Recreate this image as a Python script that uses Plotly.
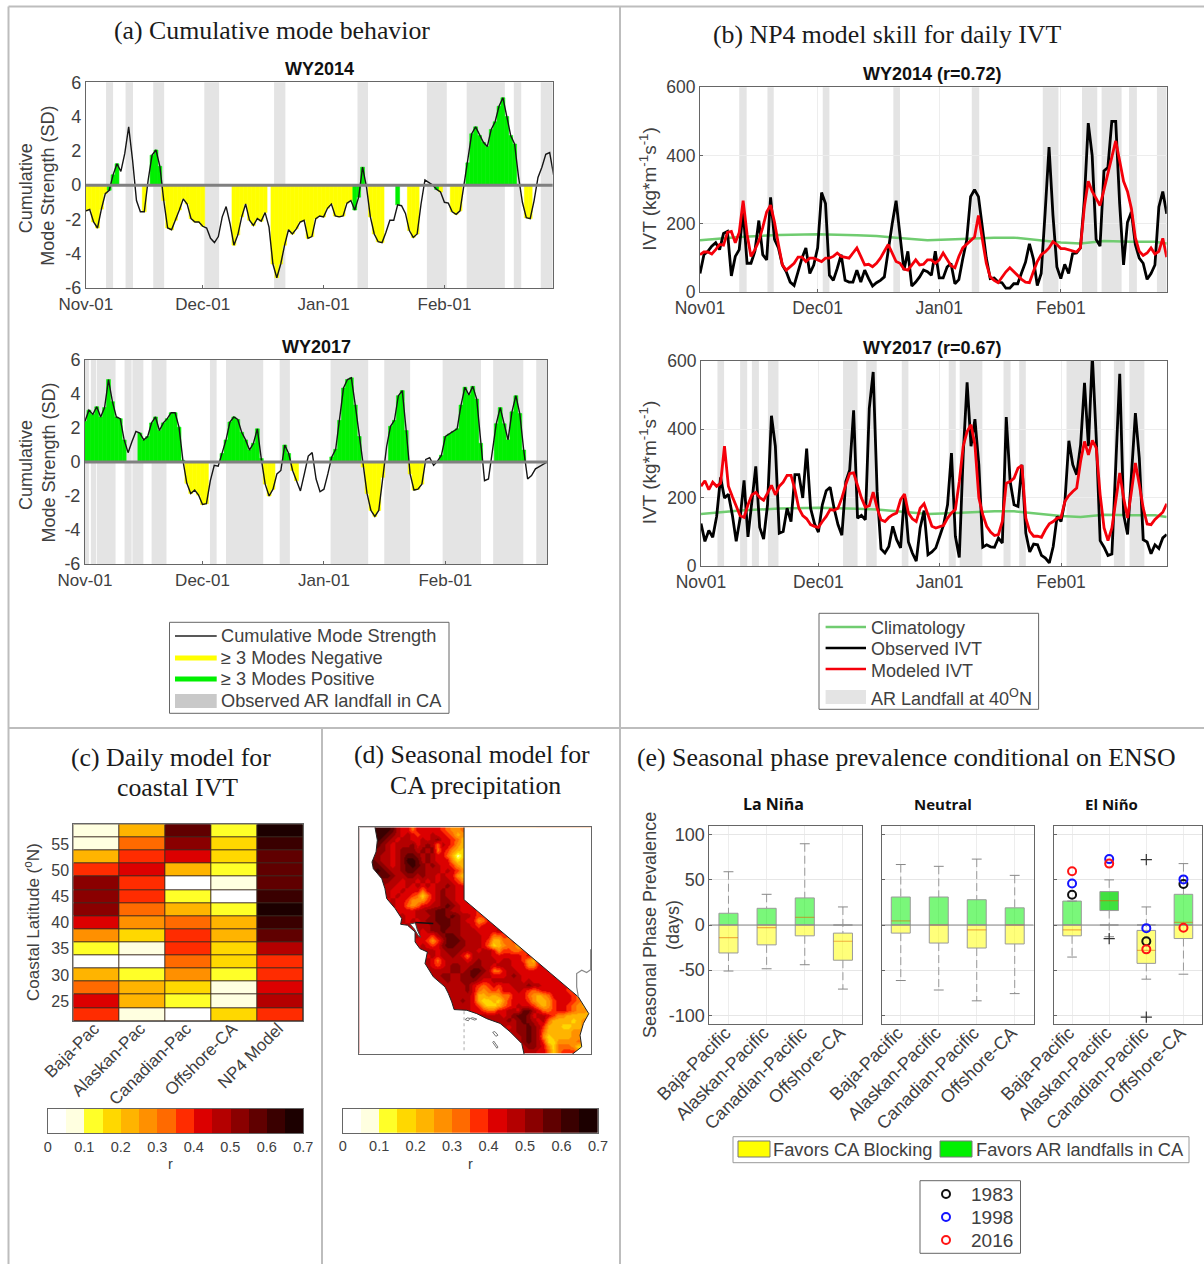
import plotly.graph_objects as go

W, H = 1204, 1264
SANS = "Liberation Sans"
SERIF = "Liberation Serif"
INK = "#404040"
FRAME = "#666666"
BAND = "#E4E4E4"

month_ticks = [0, 30, 61, 92]
month_dash = ["Nov-01", "Dec-01", "Jan-01", "Feb-01"]
month_plain = ["Nov01", "Dec01", "Jan01", "Feb01"]

# Panel a: cumulative mode strength
a14 = [-1.5,-1.42,-2.15,-2.5,-1.4,-0.5,-0.3,0.6,1.25,0.8,
       1.85,3.4,1.45,-0.9,-1.55,-1.55,0.3,1.75,2.05,1.1,
       -0.9,-2.5,-2.6,-2.05,-1.45,-0.8,-1.1,-1.95,-2.15,-2.15,
       -2.4,-2.5,-3.1,-3.35,-3.0,-1.85,-1.25,-2.25,-3.5,-2.9,
       -1.85,-1.1,-2.05,-2.35,-1.95,-2.1,-1.6,-2.45,-4.6,-5.4,
       -4.6,-3.5,-2.6,-2.85,-2.55,-2.15,-2.05,-3.1,-3.0,-1.95,
       -1.8,-1.85,-1.35,-1.1,-1.8,-1.85,-1.8,-1.05,-0.9,-1.45,
       -0.7,1.05,-0.1,-1.85,-2.85,-3.3,-3.35,-2.75,-2.05,-2.05,
       -1.15,-1.2,-1.65,-2.65,-3.05,-2.85,-1.1,0.3,0.15,0.0,
       -0.25,-0.4,-1.0,-1.05,-1.55,-1.7,-1.5,0.0,1.3,3.0,
       3.4,2.9,2.5,2.25,3.25,3.7,4.6,5.1,4.0,2.9,
       2.4,0.5,-1.0,-1.9,-1.95,-0.9,0.45,1.05,1.8,1.9,0.6]
a17 = [2.4,3.05,2.8,3.25,2.65,3.2,4.85,3.55,2.65,2.55,
       1.3,0.55,1.2,1.8,1.7,1.3,1.5,2.3,2.65,1.85,
       2.3,2.55,2.9,2.9,2.05,0.1,-1.25,-1.85,-1.65,-1.95,
       -2.5,-2.45,-1.1,-0.2,-0.25,0.5,1.3,2.35,2.65,2.5,
       1.75,1.3,0.7,1.1,1.95,0.2,-1.3,-2.0,-1.6,-0.7,
       -0.5,1.0,0.5,-0.5,-1.1,-1.7,-0.7,0.35,0.55,-1.0,
       -1.75,-1.6,-0.7,0.3,0.75,2.45,4.35,4.85,4.95,3.35,
       1.5,-0.3,-1.85,-2.85,-3.2,-2.85,-0.9,0.9,2.1,2.45,
       3.9,4.2,1.85,-0.7,-1.65,-1.6,-1.3,0.15,0.25,-0.2,
       0.05,0.4,1.5,1.65,1.8,1.95,3.35,4.4,3.95,4.45,
       3.7,1.1,-1.1,-1.0,0.5,2.25,3.2,2.25,1.3,2.95,
       3.9,2.85,0.7,-1.0,-0.8,-0.4,-0.25,-0.15,0.0]
a14_yellow = [(0,5),(15,15),(20,30),(38,46),(48,66),(67,68),(73,76),(83,85),(91,91),(94,96),(113,114)]
a14_green = [(6,8),(17,19),(69,71),(80,80),(90,90),(98,110)]
a17_yellow = [(26,31),(46,48),(53,54),(71,76),(83,86)]
a17_green = [(0,10),(14,25),(35,45),(51,52),(63,70),(78,82),(91,101),(105,112)]
a14_ar = [(5.2,7),(10.2,12.1),(17.3,20.1),(30.4,34.2),(48.3,51.2),(69.7,72.4),(87.5,92.6),(97.7,107.5),(109.8,111.7),(116.7,119.8)]
a17_ar = [(0,1),(1.5,2.8),(3,7.8),(10.1,11.9),(12.1,14.9),(17,20.8),(31.9,33.6),(36,45.5),(49.7,52.3),(62.7,72.3),(76.4,83),(91.3,101.1),(104.2,111.9),(115.2,118)]

# Panel b: IVT
b14_obs = [55,110,120,135,145,125,172,178,48,105,
           125,240,85,85,120,210,110,95,278,155,
           130,80,60,30,20,60,100,130,55,80,
           130,292,260,50,35,70,110,35,30,30,
           65,30,65,40,18,28,35,45,130,200,
           268,160,65,120,18,30,45,65,60,50,
           120,42,42,74,84,25,37,98,152,280,
           300,280,185,100,40,42,30,28,12,12,
           25,25,57,88,142,98,20,55,233,425,
           225,74,40,82,55,113,115,130,270,495,
           400,155,135,355,365,500,500,260,80,205,
           235,140,100,85,38,55,80,250,295,230]
b14_mod = [110,118,118,112,125,140,138,175,178,145,
           175,268,170,105,125,150,190,235,255,205,
           140,80,65,75,85,103,103,90,100,100,
           95,90,100,100,105,115,105,102,100,115,
           130,105,80,82,75,85,100,120,140,115,
           90,85,68,65,80,95,80,82,95,95,
           85,95,115,95,78,72,105,130,140,150,
           162,225,150,85,45,35,28,45,60,72,
           60,50,38,30,28,60,90,110,118,130,
           148,140,128,128,125,120,118,130,250,325,
           295,275,254,300,345,395,443,385,325,295,
           245,160,120,108,115,130,112,120,158,103]
b17_obs = [124,72,104,84,145,259,199,210,150,72,
           140,250,85,189,291,113,79,179,439,350,
           96,101,169,130,267,267,199,343,169,124,
           99,179,220,230,169,121,90,247,281,455,
           140,148,135,461,567,218,50,38,57,116,
           77,53,208,70,38,14,111,162,33,41,
           53,87,121,179,330,87,25,325,537,350,
           429,296,55,62,56,55,82,67,435,247,
           179,174,296,96,41,64,62,31,23,9,
           57,145,130,190,366,296,267,354,535,350,
           615,374,74,55,31,35,315,562,150,92,
           267,447,315,77,70,36,62,51,82,92]
b17_mod = [233,249,223,245,233,242,350,233,203,174,
           147,142,179,208,215,200,192,213,236,208,
           233,245,265,265,223,169,147,138,121,116,
           113,130,145,165,163,169,199,238,270,272,
           233,199,172,176,216,169,135,130,142,150,
           155,194,210,155,138,130,169,182,150,116,
           111,116,119,140,155,165,247,350,393,413,
           354,199,150,116,99,89,92,130,242,247,
           257,286,294,140,101,87,87,84,106,123,
           130,140,142,189,206,218,228,306,364,325,
           367,345,208,111,74,111,199,272,199,140,
           218,301,238,169,123,121,136,148,157,182]
clim_days = [0,5,10,20,30,40,45,50,58,65,70,75,80,86,92,97,103,110,116,119]
clim_vals = [152,158,162,168,170,167,165,160,152,155,158,160,160,152,146,143,150,148,148,143]
b14_ar = [(10,11.9),(17.2,18.8),(31.3,33),(49.3,51),(69.3,71.2),(87.4,91.4),(97.4,101.3),(102.4,107.5),(109.4,111.4),(116.5,119)]
b17_ar = [(4.2,5.9),(10,11.8),(13,14.8),(17.1,19.8),(36.3,40),(42.2,44.9),(51.3,53),(63.3,65.1),(66.1,71.9),(77.3,79.1),(81.3,83),(93.4,102.2),(105.5,108.3),(109.5,113.3)]

# Panel c: correlation table, bottom row first
lat_centers = [22.5,25,27.5,30,32.5,35,37.5,40,42.5,45,47.5,50,52.5,55,57.5]
c_modes = ["Baja-Pac","Alaskan-Pac","Canadian-Pac","Offshore-CA","NP4 Model"]
c_baja = [.375,.425,.325,.225,.025,.125,.275,.425,.525,.525,.525,.375,.225,.075,.075]
c_alas = [.075,.225,.225,.125,.025,.075,.175,.275,.325,.375,.375,.425,.375,.325,.225]
c_cana = [.025,.125,.175,.275,.325,.375,.375,.325,.225,.125,.025,.225,.425,.525,.575]
c_offs = [.175,.075,.075,.125,.175,.175,.225,.225,.125,.025,.075,.125,.175,.175,.125]
c_np4m = [.375,.475,.425,.375,.375,.475,.575,.625,.675,.625,.575,.575,.575,.625,.675]
r_bins = [.025,.075,.125,.175,.225,.275,.325,.375,.425,.475,.525,.575,.625,.675]
r_ticks = [0,.1,.2,.3,.4,.5,.6,.7]
r_labels = ["0","0.1","0.2","0.3","0.4","0.5","0.6","0.7"]
r_colors = ["#FFFFFF","#FFFFE0","#FFFF28","#FFD800","#FFB400","#FF9000","#FF6A00",
            "#FF2C00","#DC0000","#B40000","#8A0000","#600000","#3A0000","#1C0000"]

# (first column, level string); levels 0-9,a-d index r_colors
map_rows = [
 (3,"dddca9968988876556"),(3,"ddcba9a8798a987645"),(3,"dcba9aa98a9ab98764"),(3,"cba9aaab9aba6a8754"),
 (3,"bba9abbbabab687543"),(2,"bbaa9abccbaba986413"),(2,"cbaa9abddcaba998534"),(2,"ccba9abcdcbaba99754"),
 (3,"dcbaabccbbaaa9a9754"),(4,"ccbaabbabaa9a9854"),(4,"bbaa9aa9a9a9aa975"),(5,"aa99a9a8a9aaba986"),
 (5,"a99a988689abaa98"),(5,"a9a9876368abaa98"),(5,"9a98755579abba98"),(6,"a9865689aabcba98"),
 (7,"9989aabbccbaa98"),(8,"a99aaabccbcbaa977"),(8,"a9a9abbcccbba98568"),(8,"9a9aaabbccbbaa97889"),
 (10,"8a9abbcbbbaaa9998a8"),(11,"a987abccbaaaa98667"),(11,"98757acccbaaa97446675"),(11,"9a879bccbbaaa863456645"),
 (13,"aa9abbbaaa9aa8577667"),(13,"9a9aaba96aaaa98899878"),(13,"a869aaaa9abaaa9aa987548"),(13,"a979abbaabbaa9aaa9985589"),
 (14,"aaaabbabccba668aa9998989"),(14,"aabbaabbcbaa889aba9998888"),(15,"aabaabbba99aaaaaa9a988888"),(17,"aaaab97678789aaabaa99888"),
 (17,"aaaab865676889a8767899887"),(18,"aaaa8445456689865456899876"),(18,"aaba94334357899754457898765"),(19,"aaa974334679a9875457987654"),
 (21,"a9876689aa9cca86679876554"),(24,"aaaa9abccb9aa975544444"),(26,"aaababcba9a64444345"),(28,"a9abbcba744433445"),
 (30,"abbcba64444455"),(30,"aabcba53444455"),(31,"abcba73355556"),(32,"abba853666533"),(32,"aaa98636777"),
]
map_level_fix = str.maketrans("9abcd", "89abc")
map_lon0, map_dlon, map_lat0, map_dlat, map_cols = -124.82, 0.2379, 41.9, -0.2105, 46
coast_lon = [-124.2,-124.09,-124.15,-124.34,-124.28,-123.88,-123.73,-123.65,-123.25,-122.94,-122.99,-122.67,-122.31,-122.31,-122.08,-121.73,-121.84,-121.45,-120.9,-120.74,-120.58,-120.47,-119.87,-119.4,-118.93,-118.3,-117.83,-117.28,-117.17]
coast_lat = [42,41.46,40.97,40.55,40.27,39.85,39.43,39.02,38.6,38.18,37.94,37.9,37.62,37.2,36.92,36.78,36.3,35.74,35.32,35.04,34.69,34.37,34.34,34.2,33.99,33.79,33.44,32.95,32.5]
east_lon = [-120,-120,-114.61,-114.12,-114.37,-114.53,-114.45,-114.69,-114.9]
east_lat = [42,38.97,34.9,34.2,33.79,33.3,32.81,32.64,32.5]
bay_lon = [-122.55,-122.3,-122.2,-122.05,-122.15,-122.35]
bay_lat = [37.95,38.0,37.7,37.4,37.45,37.75]
delta_lon = [-122.3,-121.9,-121.45]
delta_lat = [38.02,38.0,37.97]
river_lon = [-114.61,-114.69,-114.69,-114.45,-114.22,-114.03,-114.03]
river_lat = [34.9,35.32,35.88,36.02,35.92,36.04,36.9]
state_lon = [-120,-120]
state_lat = [34.3,32.6]
island1_lon = [-119.95,-119.8,-119.72,-119.85,-119.95,None,-119.7,-119.5,-119.4,-119.6,-119.7]
island1_lat = [33.95,33.9,34.0,34.02,33.95,None,34.0,33.93,33.97,34.03,34.0]
island2_lon = [-118.65,-118.5,-118.4,-118.55,-118.65,None,-118.65,-118.45,-118.4,-118.6,-118.65]
island2_lat = [33.42,33.25,33.3,33.45,33.42,None,33.0,32.75,32.8,33.05,33.0]

# Panel e: box statistics, order Baja, Alaskan, Canadian, Offshore
e_cats = ["Baja-Pacific","Alaskan-Pacific","Canadian-Pacific","Offshore-CA"]
nina_hi = [59,34,90,20];      nina_q3 = [13,18.5,30,-9];    nina_med = [-14,-3,8.5,-18]
nina_q1 = [-31,-22,-12,-39];  nina_lo = [-51,-48.5,-44,-71]
neut_hi = [67,65,73,55];      neut_q3 = [31,31,28,19];      neut_med = [4.5,0,-5.5,0]
neut_q1 = [-9,-20,-25.5,-21]; neut_lo = [-61.5,-72,-84,-76]
nino_hi = [26.5,50,20,68];    nino_q3 = [26.5,37,-6,34];    nino_med = [-5.5,27,-28,3]
nino_q1 = [-12,16,-42.5,-15]; nino_lo = [-35.5,-13,-60,-54.5]
nino_plus_x = [2,3,3];        nino_plus_y = [-15,72.5,-102]
y1983 = [33.5,None,-18,45.5]
y1998 = [46,73,-3.5,50.5]
y2016 = [59.5,68,-27,-3]


def px(x):
    return x / W


def py(y):
    return 1 - y / H


fig = go.Figure()
layout = dict(
    width=W, height=H, margin=dict(l=0, r=0, t=0, b=0, autoexpand=False), showlegend=False,
    paper_bgcolor="white", plot_bgcolor="white", barmode="overlay",
    font=dict(family=SANS, color=INK, size=17),
)
shapes, notes = [], []


def make_axes(n, box, xopt, yopt):
    l, t, r, b = box
    base = dict(showline=True, mirror=True, linecolor=FRAME, linewidth=1, zeroline=False, showgrid=False, ticks="")
    layout[f"xaxis{n}"] = {**base, "domain": [px(l), px(r)], "anchor": f"y{n}", **xopt}
    layout[f"yaxis{n}"] = {**base, "domain": [py(b), py(t)], "anchor": f"x{n}", **yopt}


def on(n):
    return dict(xaxis=f"x{n}", yaxis=f"y{n}")


def text(x, y, s, size=17, family=SANS, color=INK, xanchor="center", angle=0, bold=False):
    if bold:
        s = f"<b>{s}</b>"
    notes.append(dict(x=px(x), y=py(y), xref="paper", yref="paper", text=s, showarrow=False,
                      xanchor=xanchor, yanchor="middle", textangle=angle,
                      font=dict(size=size, family=family, color=color)))


def line_px(x0, y0, x1, y1, color, width=1):
    shapes.append(dict(type="line", xref="paper", yref="paper", x0=px(x0), y0=py(y0), x1=px(x1), y1=py(y1),
                       line=dict(color=color, width=width)))


def rect_px(x0, y0, x1, y1, fill, outline=None, width=1):
    shapes.append(dict(type="rect", xref="paper", yref="paper", x0=px(x0), y0=py(y0), x1=px(x1), y1=py(y1),
                       fillcolor=fill, line=dict(color=outline or fill, width=width if outline else 0)))


def bands(n, spans):
    for s, e in spans:
        shapes.append(dict(type="rect", xref=f"x{n}", yref=f"y{n} domain", x0=s, x1=e, y0=0, y1=1,
                           fillcolor=BAND, line_width=0, layer="below"))


def days_of(runs):
    return [d for s, e in runs for d in range(s, e + 1)]


def mode_panel(n, box, series, yellow, green, ar, xmax, title):
    make_axes(n, box,
              dict(range=[0, xmax], tickvals=month_ticks, ticktext=month_dash, ticks="inside", ticklen=3,
                   tickcolor=FRAME, tickfont=dict(size=17), ticklabelstandoff=1),
              dict(range=[-6, 6], tickvals=list(range(-6, 7, 2)), ticktext=[str(v) for v in range(-6, 7, 2)],
                   tickfont=dict(size=18)))
    bands(n, ar)
    for runs, col in ((yellow, "#FFFF00"), (green, "#00F000")):
        ds = days_of(runs)
        fig.add_bar(x=ds, y=[series[d] for d in ds], width=1.0,
                    marker=dict(color=col, line=dict(color=col, width=0.6)), **on(n))
    fig.add_scatter(x=list(range(len(series))), y=series, mode="lines", line=dict(color="#151515", width=1.4), **on(n))
    fig.add_scatter(x=[0, xmax], y=[0, 0], mode="lines", line=dict(color="#808080", width=3), **on(n))
    l, t, r, b = box
    text((l + r) / 2, t - 13, title, size=18, color="#111111", bold=True)
    text(26, (t + b) / 2 + 3, "Cumulative", size=18, angle=-90)
    text(48.5, (t + b) / 2 + 1, "Mode Strength (SD)", size=18, angle=-90)


def ivt_panel(n, box, obs, mod, ar, title):
    make_axes(n, box,
              dict(range=[0, 119], tickvals=month_ticks, ticktext=month_plain, ticks="inside", ticklen=3, tickcolor=FRAME,
                   showgrid=True, gridcolor="#EDEDED", tickfont=dict(size=17.5)),
              dict(range=[0, 600], tickvals=[0, 200, 400, 600], ticklen=3, ticks="inside", tickcolor=FRAME,
                   showgrid=True, gridcolor="#EDEDED", tickfont=dict(size=17.5)))
    bands(n, ar)
    fig.add_scatter(x=clim_days, y=clim_vals, mode="lines", line=dict(color="#70CC70", width=2.5), **on(n))
    fig.add_scatter(x=list(range(len(obs))), y=obs, mode="lines", line=dict(color="#000000", width=2.8), **on(n))
    fig.add_scatter(x=list(range(len(mod))), y=mod, mode="lines", line=dict(color="#F5000A", width=2.8), **on(n))
    l, t, r, b = box
    text((l + r) / 2 - 1, t - 13, title, size=18, color="#111111", bold=True)
    text(648, (t + b) / 2 - 1, "IVT (kg*m<sup>-1</sup>s<sup>-1</sup>)", size=19, angle=-90)


mode_panel(12, (85.8, 82.3, 552.8, 288), a14, a14_yellow, a14_green, a14_ar, 119.8, "WY2014")
mode_panel(2, (85, 360, 547.2, 564), a17, a17_yellow, a17_green, a17_ar, 118, "WY2017")
ivt_panel(3, (700, 87.3, 1166.7, 292.3), b14_obs, b14_mod, b14_ar, "WY2014 (r=0.72)")
ivt_panel(4, (701, 360.7, 1166.7, 566), b17_obs, b17_mod, b17_ar, "WY2017 (r=0.67)")

# discrete colour scale shared by panels c and d
stops = []
for i, c in enumerate(r_colors):
    stops += [[i / 14, c], [(i + 1) / 14, c]]

# Panel c
make_axes(5, (73.3, 824.3, 303.3, 1021),
          dict(range=[-0.5, 4.5], tickvals=list(range(5)), ticktext=c_modes, tickangle=-45,
               tickfont=dict(size=17), showline=True, ticklabelstandoff=-10, ticklabelshift=-2),
          dict(range=[21.25, 58.75], tickvals=[25, 30, 35, 40, 45, 50, 55], tickfont=dict(size=16)))
shapes.append(dict(type="rect", xref="x5 domain", yref="y5 domain", x0=0, x1=1, y0=0, y1=1,
                   fillcolor="#3C2A20", line_width=0, layer="below"))
fig.add_heatmap(x=list(range(5)), y=lat_centers, z=[list(row) for row in zip(c_baja, c_alas, c_cana, c_offs, c_np4m)],
                zmin=0, zmax=0.7, colorscale=stops, showscale=False, xgap=1, ygap=1, **on(5))
text(32, 922, "Coastal Latitude (<sup>o</sup>N)", size=17, angle=-90)


def r_bar(n, box, r_x):
    make_axes(n, box,
              dict(range=[0, 0.7], tickvals=r_ticks, ticktext=r_labels, tickfont=dict(size=14.5)),
              dict(range=[0, 1], showticklabels=False))
    fig.add_heatmap(x=r_bins, y=[0.5], z=[r_bins], zmin=0, zmax=0.7, colorscale=stops, showscale=False, **on(n))
    text(r_x, box[3] + 31, "r", size=14.5)


r_bar(6, (47.7, 1109, 303.3, 1133.3), 170)
r_bar(8, (342.7, 1109, 598, 1132.7), 470)

# Panel d
make_axes(7, (359.3, 827.3, 591.3, 1054),
          dict(range=[-124.94, -114], showticklabels=False),
          dict(range=[32.51, 42], showticklabels=False))
map_z = []
for start, levels in map_rows:
    row = [None] * map_cols
    for i, ch in enumerate(levels.translate(map_level_fix)):
        if start + i < map_cols:
            row[start + i] = r_bins[int(ch, 16)]
    map_z.append(row)
fig.add_heatmap(x=[map_lon0 + map_dlon * i for i in range(map_cols)],
                y=[map_lat0 + map_dlat * j for j in range(len(map_rows))],
                z=map_z, zmin=0, zmax=0.7, colorscale=stops, showscale=False,
                zsmooth="best", connectgaps=True, **on(7))
west_x = coast_lon + [-124.94, -124.94]
west_y = coast_lat + [32.51, 42]
fig.add_scatter(x=west_x, y=west_y, mode="none", fill="toself", fillcolor="white", **on(7))
east_x = east_lon + [-114, -114]
east_y = east_lat + [32.51, 42]
fig.add_scatter(x=east_x, y=east_y, mode="none", fill="toself", fillcolor="white", **on(7))
fig.add_scatter(x=bay_lon + bay_lon[:1], y=bay_lat + bay_lat[:1], mode="lines", fill="toself", fillcolor="white",
                line=dict(color="#444444", width=1), **on(7))
fig.add_scatter(x=delta_lon, y=delta_lat, mode="lines", line=dict(color="#111111", width=1.5), **on(7))
fig.add_scatter(x=coast_lon, y=coast_lat, mode="lines", line=dict(color="#222222", width=1), **on(7))
fig.add_scatter(x=east_lon, y=east_lat, mode="lines", line=dict(color="#222222", width=1), **on(7))
fig.add_scatter(x=river_lon, y=river_lat, mode="lines", line=dict(color="#888888", width=1.2), **on(7))
fig.add_scatter(x=state_lon, y=state_lat, mode="lines", line=dict(color="#AAAAAA", width=1, dash="dot"), **on(7))
for ix, iy in ((island1_lon, island1_lat), (island2_lon, island2_lat)):
    fig.add_scatter(x=ix, y=iy, mode="lines", line=dict(color="#777777", width=1), **on(7))


# Panel e
def box_panel(n, box, hi, q3, med, q1, lo, labels):
    make_axes(n, box,
              dict(range=[0.5, 4.5], tickvals=[1, 2, 3, 4], ticktext=e_cats, tickangle=-45, showgrid=True,
                   gridcolor="#EDEDED", tickfont=dict(size=18), ticklabelstandoff=-10, ticklabelshift=-3),
              dict(range=[-110, 110], tickvals=[-100, -50, 0, 50, 100],
                   ticktext=["-100", "-50", "0", "50", "100"] if labels else None,
                   showticklabels=labels, showgrid=True, gridcolor="#E6E6E6", ticks="inside", ticklen=3,
                   tickcolor=FRAME, tickfont=dict(size=18)))
    cats = [1, 2, 3, 4]
    wx, wy, cx, cy = [], [], [], []
    for c, h, u, d, l in zip(cats, hi, q3, q1, lo):
        wx += [c, c, None, c, c, None]
        wy += [h, u, None, d, l, None]
        cx += [c - 0.13, c + 0.13, None, c - 0.13, c + 0.13, None]
        cy += [h, h, None, l, l, None]
    fig.add_scatter(x=wx, y=wy, mode="lines", line=dict(color="#999999", width=1, dash="8px,4px"), **on(n))
    fig.add_scatter(x=cx, y=cy, mode="lines", line=dict(color="#888888", width=1), **on(n))
    up_base = [max(v, 0) for v in q1]
    up_h = [max(u, 0) - b for u, b in zip(q3, up_base)]
    dn_top = [min(v, 0) for v in q3]
    dn_h = [t - min(d, 0) for t, d in zip(dn_top, q1)]
    up_col = ["rgba(0,215,0,0.75)" if d >= 0 else "rgba(0,240,0,0.52)" for d in q1]
    fig.add_bar(x=cats, y=up_h, base=up_base, width=0.5, marker=dict(color=up_col, line=dict(color="#9A9A9A", width=1)), **on(n))
    fig.add_bar(x=cats, y=dn_h, base=[t - h for t, h in zip(dn_top, dn_h)], width=0.5,
                marker=dict(color="rgba(255,255,0,0.52)", line=dict(color="#9A9A9A", width=1)), **on(n))
    mx, my = [], []
    for c, m in zip(cats, med):
        mx += [c - 0.25, c + 0.25, None]
        my += [m, m, None]
    fig.add_scatter(x=mx, y=my, mode="lines", line=dict(color="rgba(225,100,0,0.5)", width=1.2), **on(n))
    fig.add_scatter(x=[0.5, 4.5], y=[0, 0], mode="lines", line=dict(color="#8A8A8A", width=1.2), **on(n))


E_T, E_B = 825.7, 1024.3
box_panel(9, (709.4, E_T, 862, E_B), nina_hi, nina_q3, nina_med, nina_q1, nina_lo, True)
box_panel(10, (881.8, E_T, 1033.7, E_B), neut_hi, neut_q3, neut_med, neut_q1, neut_lo, False)
box_panel(11, (1053.5, E_T, 1202, E_B), nino_hi, nino_q3, nino_med, nino_q1, nino_lo, False)
fig.add_scatter(x=nino_plus_x, y=nino_plus_y, mode="markers",
                marker=dict(symbol="cross-thin-open", size=8, color="#333333", line=dict(color="#333333", width=1.2)), **on(11))
for ys, col in ((y1983, "#111111"), (y1998, "#1414FF"), (y2016, "#FF1414")):
    fig.add_scatter(x=[1, 2, 3, 4], y=ys, mode="markers",
                    marker=dict(symbol="circle-open", size=8, color=col, line=dict(color=col, width=2)), **on(11))

text(650, 925, "Seasonal Phase Prevalence", size=18, angle=-90)
text(673, 925, "(days)", size=18, angle=-90)
for cx_, s, sz in ((773, "La Niña", 16), (943, "Neutral", 15), (1111, "El Niño", 15)):
    text(cx_, 804, s, size=sz, family="Open Sans", color="#111111", bold=True)

# Panel titles
SZ = 25.8
for x, y, s in ((272, 30, "(a) Cumulative mode behavior"), (887, 34, "(b) NP4 model skill for daily IVT"),
                (171, 757, "(c) Daily model for"), (177, 787, "coastal IVT"),
                (472, 754, "(d) Seasonal model for"), (475, 785, "CA precipitation"),
                (906, 757, "(e) Seasonal phase prevalence conditional on ENSO")):
    text(x, y, s, size=SZ, family=SERIF, color="#1A1A1A")

# Legends
rect_px(169.5, 622.3, 449, 713.3, "white", FRAME)
line_px(175, 636, 216.7, 636, "#222222", 1.4)
rect_px(175, 655.5, 216.7, 660.5, "#FFFF00")
rect_px(175, 676.5, 216.7, 681.5, "#00F000")
rect_px(175, 694, 216.7, 708, "#C9C9C9")
for y, s in ((636, "Cumulative Mode Strength"), (658, "≥ 3 Modes Negative"), (679, "≥ 3 Modes Positive"), (701, "Observed AR landfall in CA")):
    text(219, y, s, size=18.2, xanchor="left")

rect_px(819, 613.3, 1038.6, 709.3, "white", FRAME)
line_px(825.6, 627, 866, 627, "#70CC70", 2.5)
line_px(825.6, 648, 866, 648, "#000000", 2.5)
line_px(825.6, 669, 866, 669, "#F5000A", 2.5)
rect_px(825.6, 690, 866, 704, BAND)
for y, s in ((628, "Climatology"), (649, "Observed IVT"), (671, "Modeled IVT"), (697, "AR Landfall at 40<sup>O</sup>N")):
    text(869, y, s, size=18, xanchor="left")

rect_px(733, 1136.7, 1189, 1162.7, "white", "#999999")
rect_px(738, 1141, 770, 1157, "#FFFF00", "#777777")
rect_px(940, 1141, 972, 1157, "#00F000", "#777777")
text(771, 1149.5, "Favors CA Blocking", size=18.3, xanchor="left")
text(974, 1149.5, "Favors AR landfalls in CA", size=18.3, xanchor="left")

rect_px(920, 1180.7, 1020.5, 1253.3, "white", FRAME)
legend_years = ["1983", "1998", "2016"]
legend_colors = ["#111111", "#1414FF", "#FF1414"]
for y, s, col in zip((1194, 1217, 1240), legend_years, legend_colors):
    text(969, y, s, size=19, xanchor="left")
    shapes.append(dict(type="circle", xref="paper", yref="paper", x0=px(942), x1=px(950), y0=py(y + 4), y1=py(y - 4),
                       line=dict(color=col, width=2), fillcolor="rgba(0,0,0,0)"))

# Panel frames
GRID = "#BDBDBD"
line_px(8.5, 6.5, 1204, 6.5, GRID, 2)
line_px(8.5, 6.5, 8.5, 1264, GRID, 2)
line_px(620, 6.5, 620, 1264, GRID, 2)
line_px(8.5, 728, 1204, 728, GRID, 2)
line_px(322, 728, 322, 1264, GRID, 2)

layout["shapes"] = shapes
layout["annotations"] = notes
fig.update_layout(**layout)
fig.update_traces(hoverinfo="skip")

fig.write_html("out.html", config=dict(displayModeBar=False),
               post_script="document.body.style.margin='0';document.body.style.overflow='hidden';")
